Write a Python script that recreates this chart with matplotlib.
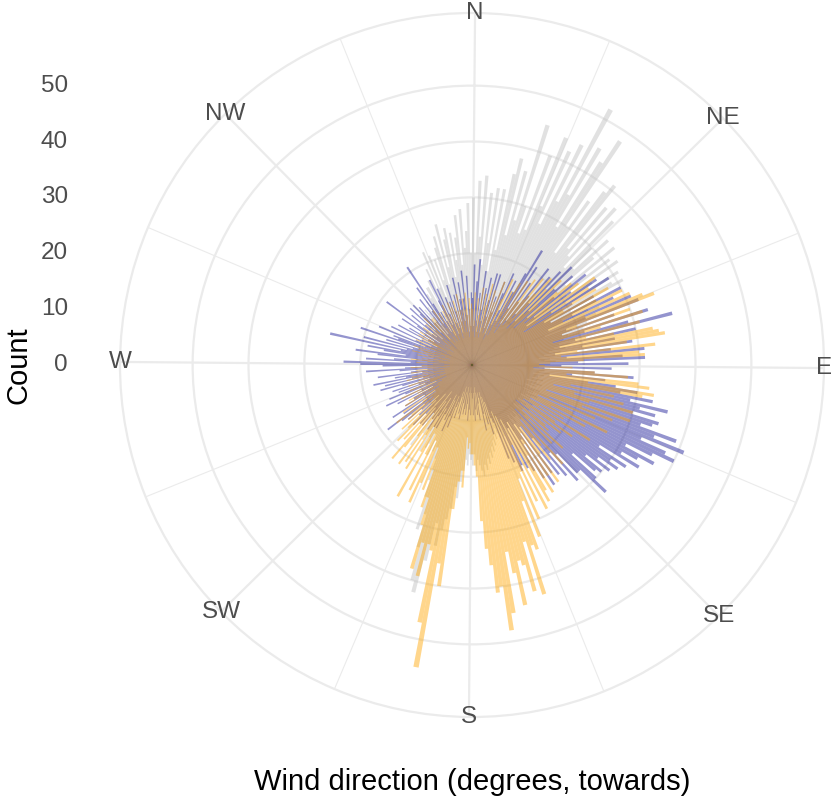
import numpy as np
import matplotlib
matplotlib.use("Agg")
import matplotlib.pyplot as plt

# 방향(도, 0=북쪽, 시계방향) 1도 간격 구간의 개수
degrees = list(range(360))

grey_counts = [
    30, 20, 33, 23, 34, 18, 31, 22, 32, 17,
    32, 21, 35, 38, 24, 36, 27, 45, 30, 25,
    40, 26, 44, 31, 42, 28, 44, 33, 52, 35,
    45, 29, 43, 48, 30, 36, 25, 39, 41, 27,
    37, 26, 38, 24, 36, 30, 25, 33, 29, 22,
    33, 23, 31, 21, 32, 26, 20, 31, 19, 29,
    31, 20, 25, 18, 23, 25, 15, 24, 14, 22,
    19, 21, 18, 20, 17, 19, 16, 18, 15, 17,
    14, 16, 13, 15, 12, 14, 13, 15, 12, 14,
    13, 12, 14, 11, 13, 12, 14, 11, 13, 12,
    12, 11, 13, 12, 10, 12, 13, 11, 12, 10,
    11, 13, 12, 10, 12, 11, 13, 12, 11, 12,
    10, 12, 11, 13, 11, 10, 12, 11, 13, 12,
    11, 12, 10, 13, 12, 11, 12, 13, 11, 12,
    12, 11, 13, 12, 11, 13, 12, 14, 12, 13,
    13, 12, 14, 13, 12, 14, 13, 12, 14, 13,
    12, 14, 13, 15, 14, 16, 15, 17, 16, 18,
    17, 19, 18, 20, 19, 18, 17, 19, 16, 18,
    17, 16, 18, 17, 19, 21, 24, 22, 26, 28,
    30, 33, 29, 36, 42, 40, 34, 28, 31, 25,
    22, 18, 20, 16, 17, 15, 18, 14, 16, 17,
    15, 18, 14, 16, 13, 15, 12, 18, 13, 12,
    11, 10, 12, 9, 11, 10, 9, 11, 10, 9,
    10, 9, 11, 8, 10, 9, 10, 8, 9, 10,
    9, 8, 10, 9, 8, 10, 9, 7, 9, 8,
    8, 9, 7, 9, 8, 7, 9, 8, 7, 8,
    7, 8, 9, 7, 8, 7, 6, 8, 7, 8,
    8, 7, 6, 8, 7, 9, 7, 8, 6, 7,
    7, 8, 7, 6, 8, 7, 9, 7, 8, 7,
    8, 7, 9, 8, 7, 8, 9, 7, 8, 9,
    9, 8, 10, 9, 8, 10, 9, 11, 9, 10,
    10, 9, 11, 10, 12, 11, 10, 12, 11, 13,
    12, 11, 13, 12, 14, 13, 12, 15, 14, 16,
    16, 10, 17, 12, 19, 14, 22, 15, 21, 13,
    20, 16, 22, 24, 15, 26, 18, 23, 25, 16,
    24, 19, 23, 27, 18, 28, 21, 24, 29, 20,
]

purple_counts = [
    12, 18, 7, 15, 19, 8, 13, 6, 17, 10,
    14, 8, 16, 6, 12, 17, 9, 17, 7, 13,
    10, 16, 6, 14, 18, 8, 11, 17, 9, 15,
    19, 24, 12, 21, 9, 18, 14, 10, 22, 16,
    12, 21, 15, 23, 11, 25, 14, 20, 24, 13,
    19, 26, 14, 22, 12, 27, 17, 29, 21, 15,
    25, 16, 30, 20, 28, 15, 31, 22, 32, 18,
    27, 17, 33, 21, 29, 37, 19, 30, 16, 26,
    20, 29, 15, 25, 31, 17, 27, 31, 19, 28,
    16, 25, 13, 22, 29, 18, 24, 14, 26, 30,
    27, 33, 29, 36, 31, 34, 30, 35, 34, 32,
    39, 35, 41, 33, 38, 40, 36, 31, 37, 34,
    31, 35, 27, 33, 30, 32, 28, 31, 26, 30,
    29, 24, 30, 33, 27, 27, 22, 28, 21, 26,
    17, 25, 14, 24, 13, 26, 16, 24, 12, 22,
    13, 21, 11, 20, 21, 10, 19, 9, 18, 11,
    10, 7, 13, 6, 11, 5, 9, 12, 6, 5,
    7, 10, 5, 9, 4, 8, 10, 5, 9, 6,
    5, 9, 4, 8, 10, 5, 7, 9, 4, 8,
    9, 5, 7, 10, 4, 9, 6, 5, 10, 7,
    8, 12, 6, 10, 13, 7, 11, 6, 10, 13,
    9, 13, 7, 11, 14, 8, 12, 6, 11, 14,
    10, 14, 7, 12, 15, 9, 13, 8, 12, 15,
    11, 16, 19, 10, 15, 8, 17, 10, 14, 12,
    12, 8, 15, 10, 17, 7, 13, 16, 9, 14,
    10, 15, 8, 13, 17, 9, 16, 11, 18, 12,
    14, 9, 17, 11, 8, 13, 19, 12, 9, 16,
    20, 23, 11, 19, 14, 10, 17, 21, 12, 16,
    19, 13, 26, 12, 20, 11, 16, 10, 21, 14,
    15, 9, 18, 11, 8, 16, 10, 7, 15, 9,
    13, 8, 10, 15, 7, 12, 19, 9, 8, 14,
    11, 7, 15, 9, 13, 15, 8, 14, 10, 6,
    10, 15, 7, 12, 17, 9, 21, 13, 7, 11,
    9, 6, 13, 17, 8, 15, 10, 6, 13, 8,
    12, 7, 15, 10, 6, 13, 8, 16, 10, 12,
    15, 8, 12, 17, 9, 6, 16, 10, 7, 13,
]

orange_counts = [
    10, 6, 13, 8, 5, 12, 7, 9, 14, 6,
    8, 13, 5, 11, 15, 7, 9, 14, 6, 12,
    10, 16, 7, 5, 13, 17, 9, 6, 15, 11,
    17, 8, 12, 18, 7, 14, 19, 9, 15, 20,
    11, 17, 21, 9, 19, 13, 22, 16, 10, 20,
    23, 12, 24, 17, 27, 14, 25, 11, 26, 19,
    28, 16, 25, 30, 18, 31, 22, 33, 35, 20,
    30, 17, 32, 24, 15, 31, 21, 26, 33, 34,
    35, 28, 19, 33, 16, 30, 31, 20, 14, 12,
    13, 18, 11, 22, 28, 17, 30, 32, 21, 33,
    31, 18, 26, 15, 28, 19, 30, 22, 14, 30,
    21, 27, 15, 24, 13, 20, 27, 16, 23, 12,
    19, 14, 25, 11, 18, 22, 13, 20, 10, 17,
    18, 12, 22, 14, 20, 11, 16, 24, 13, 19,
    22, 14, 20, 26, 15, 24, 17, 27, 19, 26,
    28, 18, 29, 16, 27, 21, 30, 22, 33, 26,
    35, 34, 43, 33, 42, 37, 36, 44, 38, 34,
    45, 48, 40, 41, 36, 33, 28, 20, 18, 16,
    16, 14, 15, 13, 22, 19, 21, 26, 40, 36,
    55, 47, 34, 33, 39, 33, 38, 30, 25, 27,
    20, 24, 16, 23, 27, 15, 25, 18, 14, 27,
    18, 13, 22, 15, 21, 12, 22, 16, 11, 19,
    22, 14, 18, 11, 19, 16, 10, 17, 9, 15,
    14, 9, 17, 11, 8, 15, 10, 7, 14, 9,
    13, 7, 11, 6, 14, 9, 5, 12, 8, 10,
    8, 12, 5, 10, 6, 9, 12, 5, 11, 7,
    9, 5, 11, 6, 10, 4, 8, 11, 5, 9,
    7, 4, 10, 5, 8, 11, 6, 9, 7, 4,
    10, 6, 8, 11, 4, 9, 10, 5, 11, 7,
    6, 10, 8, 4, 11, 7, 5, 10, 8, 11,
    9, 5, 11, 7, 4, 10, 6, 11, 5, 9,
    7, 11, 5, 9, 12, 6, 4, 10, 11, 7,
    11, 6, 9, 5, 12, 8, 6, 11, 5, 9,
    7, 11, 8, 12, 5, 10, 6, 9, 12, 7,
    11, 8, 5, 12, 7, 10, 8, 13, 6, 10,
    8, 12, 6, 10, 13, 5, 9, 12, 7, 11,
]

compass_angles = [0, 45, 90, 135, 180, 225, 270, 315]
compass_labels = ["N", "NE", "E", "SE", "S", "SW", "W", "NW"]
r_breaks = [0, 10, 20, 30, 40, 50]

plt.rcParams['font.family'] = ['Liberation Sans', 'DejaVu Sans']
grid_col = "#EBEBEB"
text_col = "#4D4D4D"

fig = plt.figure(figsize=(8.31, 8.06), dpi=100)
ax = fig.add_axes([120/831, 89/806, 704/831, 704/806], projection='polar')

ax.set_theta_direction(-1)
ax.set_theta_zero_location('N', offset=-0.5)
ax.set_rlim(0, 63)

theta = np.deg2rad(degrees)
w = np.deg2rad(1)
ax.bar(theta, grey_counts, width=w, color="#BEBEBE", alpha=0.45, linewidth=0)
ax.bar(theta, purple_counts, width=w, color="#00008B", alpha=0.42, linewidth=0)
ax.bar(theta, orange_counts, width=w, color="#FFA500", alpha=0.45, linewidth=0)

# 격자선
ax.set_axisbelow(True)
ax.set_xticks(np.deg2rad(compass_angles))
ax.set_xticks(np.deg2rad(np.array(compass_angles) + 22.5), minor=True)
ax.set_xticklabels([])
ax.set_yticks(r_breaks[1:])
ax.set_yticklabels([])
ax.tick_params(length=0, which='both')
ax.xaxis.grid(True, which='major', color=grid_col, lw=1.6)
ax.xaxis.grid(True, which='minor', color=grid_col, lw=0.8)
ax.yaxis.grid(True, color=grid_col, lw=1.6)
ax.spines['polar'].set_color(grid_col)
ax.spines['polar'].set_linewidth(1.6)

for a, lab in zip(compass_angles, compass_labels):
    ax.text(np.deg2rad(a), 63, lab, ha='center', va='center',
            fontsize=17.5, color=text_col)

# 왼쪽 Count 눈금
fig_h = fig.bbox.height
for r in r_breaks:
    y = ax.transData.transform((0, r))[1] / fig_h
    fig.text(68/831, y, str(r), ha='right', va='center', fontsize=17.5, color=text_col)

fig.text(18/831, 1 - 365/806, "Count", rotation=90, ha='center', va='center', fontsize=21)
fig.text(472/831, 1 - 782/806, "Wind direction (degrees, towards)",
         ha='center', va='center', fontsize=21)

fig.savefig("out.png", dpi=100)
